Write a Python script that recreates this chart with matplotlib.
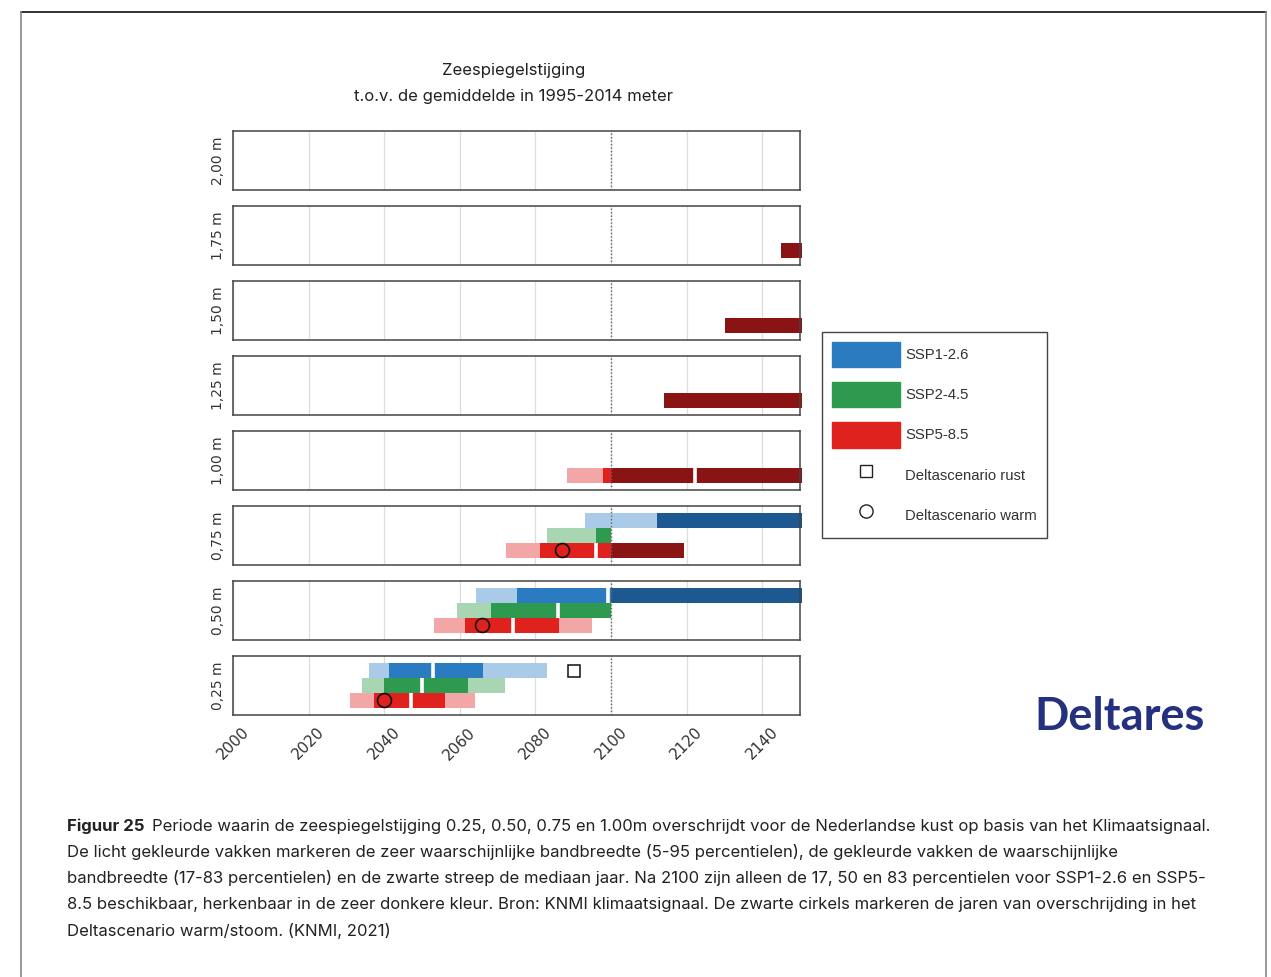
import numpy as np
import matplotlib
matplotlib.use("Agg")
import matplotlib.pyplot as plt
from matplotlib.patches import Patch
from matplotlib.lines import Line2D

nan = np.nan

# sea level rise levels, bottom to top
levels = ["0,25 m", "0,50 m", "0,75 m", "1,00 m", "1,25 m", "1,50 m", "1,75 m", "2,00 m"]

# year of exceedance per percentile (nan = not available / beyond 2150)
ssp126_p5 = [2036.1, 2064.2, 2093.2, nan, nan, nan, nan, nan]
ssp126_p17 = [2041.4, 2075.2, 2112.3, nan, nan, nan, nan, nan]
ssp126_p50 = [2053.0, 2099.3, nan, nan, nan, nan, nan, nan]
ssp126_p83 = [2066.1, nan, nan, nan, nan, nan, nan, nan]
ssp126_p95 = [2083.0, nan, nan, nan, nan, nan, nan, nan]

ssp245_p5 = [2034.2, 2059.2, 2083.2, nan, nan, nan, nan, nan]
ssp245_p17 = [2040.0, 2068.3, 2096.1, nan, nan, nan, nan, nan]
ssp245_p50 = [2050.1, 2086.1, nan, nan, nan, nan, nan, nan]
ssp245_p83 = [2062.1, nan, nan, nan, nan, nan, nan, nan]
ssp245_p95 = [2072.0, nan, nan, nan, nan, nan, nan, nan]

ssp585_p5 = [2030.9, 2053.1, 2072.3, 2088.3, nan, nan, nan, nan]
ssp585_p17 = [2037.2, 2061.3, 2081.2, 2097.9, 2113.9, 2130.1, 2144.9, nan]
ssp585_p50 = [2047.1, 2074.1, 2096.1, 2122.1, nan, nan, nan, nan]
ssp585_p83 = [2056.0, 2086.2, 2119.2, nan, nan, nan, nan, nan]
ssp585_p95 = [2064.1, 2095.1, nan, nan, nan, nan, nan, nan]

# Deltascenario years
delta_rust = [2090.3, nan, nan, nan, nan, nan, nan, nan]
delta_warm = [2040.0, 2066.0, 2087.1, nan, nan, nan, nan, nan]

xmin, xmax = 2000, 2150
cutoff = 2100

scenarios = [
    # name, row, percentiles, has data after 2100, colours (light, dark, post)
    ("SSP1-2.6", 3, (ssp126_p5, ssp126_p17, ssp126_p50, ssp126_p83, ssp126_p95), True,
     ("#a9cbe8", "#2b7bc0", "#1d5990")),
    ("SSP2-4.5", 2, (ssp245_p5, ssp245_p17, ssp245_p50, ssp245_p83, ssp245_p95), False,
     ("#a8d6b2", "#2e9a4f", None)),
    ("SSP5-8.5", 1, (ssp585_p5, ssp585_p17, ssp585_p50, ssp585_p83, ssp585_p95), True,
     ("#f2a6a6", "#e0221f", "#8a1414")),
]


def draw_scenario(ax, i, row, pct, has_post, cols):
    p5, p17, p50, p83, p95 = [v[i] for v in pct]
    light, dark, post = cols
    h = 1.0
    # very likely range (light)
    if np.isfinite(p5):
        if np.isfinite(p95) and p95 <= cutoff:
            end = p95
        elif np.isfinite(p17) and p17 > cutoff:
            end = p17
        else:
            end = cutoff
        ax.barh(row, end - p5, left=p5, height=h, color=light, lw=0)
    # likely range (dark), before 2100
    if np.isfinite(p17) and p17 < cutoff:
        e1 = min(p50 if np.isfinite(p50) else cutoff, cutoff)
        ax.barh(row, e1 - p17, left=p17, height=h, color=dark, lw=0)
        if np.isfinite(p50) and p50 < cutoff:
            e2 = min(p83 if np.isfinite(p83) else cutoff, cutoff)
            ax.barh(row, e2 - p50, left=p50, height=h, color=dark, lw=0)
    # after 2100: only 17, 50, 83 percentiles
    if has_post and np.isfinite(p17):
        start = max(p17, cutoff)
        end = p83 if np.isfinite(p83) else xmax + 0.5
        if end > start:
            ax.barh(row, end - start, left=start, height=h, color=post, lw=0, clip_on=False)
    # median
    if np.isfinite(p50):
        ax.vlines(p50, row - h / 2, row + h / 2, color="white", lw=2.6, zorder=3)


fig = plt.figure(figsize=(12.71, 9.77), dpi=100)
W, H = 1271, 977

gs = fig.add_gridspec(len(levels), 1, left=233 / W, right=800 / W,
                      top=1 - 131 / H, bottom=1 - 715 / H, hspace=0.265)

axes = []
for k in range(len(levels)):
    i = len(levels) - 1 - k
    ax = fig.add_subplot(gs[k, 0])
    axes.append(ax)
    ax.set_xlim(xmin, xmax)
    ax.set_ylim(0, 4)
    ax.set_yticks([])
    ax.set_xticks(np.arange(2000, 2141, 20))
    ax.grid(axis="x", color="#dddddd", lw=0.9)
    ax.set_axisbelow(True)
    ax.axvline(cutoff, color="#666666", ls=(0, (1, 1.5)), lw=1.0, zorder=4)
    ax.tick_params(axis="x", length=0)
    for s in ax.spines.values():
        s.set_color("#444444")
        s.set_linewidth(1.1)
    ax.set_ylabel(levels[i], fontsize=10, color="#333333", labelpad=6,
                  family="DejaVu Sans")
    for name, row, pct, has_post, cols in scenarios:
        draw_scenario(ax, i, row, pct, has_post, cols)
    if np.isfinite(delta_rust[i]):
        ax.plot(delta_rust[i], 3, marker="s", ms=8.5, mfc="white", mec="#111111",
                mew=1.1, ls="none", zorder=5)
    if np.isfinite(delta_warm[i]):
        ax.plot(delta_warm[i], 1, marker="o", ms=10, mfc="none", mec="#111111",
                mew=1.2, ls="none", zorder=5)
    if i == 0:
        ax.tick_params(axis="x", labelsize=11, labelcolor="#333333", pad=7)
        for lab in ax.get_xticklabels():
            lab.set_rotation(45)
    else:
        ax.tick_params(axis="x", labelbottom=False)

# legend
handles = [
    Patch(color="#2b7bc0", label="SSP1-2.6"),
    Patch(color="#2e9a4f", label="SSP2-4.5"),
    Patch(color="#e0221f", label="SSP5-8.5"),
    Line2D([], [], marker="s", ms=8.5, mfc="white", mec="#222222", mew=1.0,
           ls="none", label="Deltascenario rust"),
    Line2D([], [], marker="o", ms=9.5, mfc="white", mec="#222222", mew=1.0,
           ls="none", label="Deltascenario warm"),
]
leg = fig.legend(handles=handles, loc="upper left", bbox_to_anchor=(822 / W, 1 - 332 / H),
                 frameon=True, fancybox=False, edgecolor="#444444", framealpha=1,
                 prop={"family": "Liberation Sans", "size": 10.7},
                 handlelength=4.6, handleheight=2.25, labelspacing=1.0,
                 handletextpad=0.35, borderpad=0.65, borderaxespad=0)
leg.get_frame().set_linewidth(1.0)
for t in leg.get_texts():
    t.set_color("#333333")

# title
fig.text(514 / W, 1 - 71 / H, "Zeespiegelstijging", ha="center", va="center",
         family="Inter", fontsize=12, color="#222222")
fig.text(514 / W, 1 - 97 / H, "t.o.v. de gemiddelde in 1995-2014 meter", ha="center",
         va="center", family="Inter", fontsize=12, color="#222222")

# logo
fig.text(1120 / W, 1 - 717 / H, "Deltares", ha="center", va="center", family="Lato",
         fontweight="bold", fontsize=32.5, color="#24317f")

# caption
caption = [
    "Periode waarin de zeespiegelstijging 0.25, 0.50, 0.75 en 1.00m overschrijdt voor de Nederlandse kust op basis van het Klimaatsignaal.",
    "De licht gekleurde vakken markeren de zeer waarschijnlijke bandbreedte (5-95 percentielen), de gekleurde vakken de waarschijnlijke",
    "bandbreedte (17-83 percentielen) en de zwarte streep de mediaan jaar. Na 2100 zijn alleen de 17, 50 en 83 percentielen voor SSP1-2.6 en SSP5-",
    "8.5 beschikbaar, herkenbaar in de zeer donkere kleur. Bron: KNMI klimaatsignaal. De zwarte cirkels markeren de jaren van overschrijding in het",
    "Deltascenario warm/stoom. (KNMI, 2021)",
]
cap_size = 12
renderer = fig.canvas.get_renderer()
bold = fig.text(67 / W, 1 - 826 / H, "Figuur 25", family="Inter", fontweight="bold",
                fontsize=cap_size, color="#222222", va="center")
bw = bold.get_window_extent(renderer).width
fig.text((67 + bw + 7) / W, 1 - 826 / H, caption[0], family="Inter", fontsize=cap_size,
         color="#222222", va="center")
for n, line in enumerate(caption[1:], start=1):
    fig.text(67 / W, 1 - (826 + 26.2 * n) / H, line, family="Inter", fontsize=cap_size,
             color="#222222", va="center")

# page border
fig.add_artist(Line2D([21 / W, 1266 / W], [1 - 12 / H, 1 - 12 / H], color="#111111", lw=1.2))
fig.add_artist(Line2D([21 / W, 21 / W], [0, 1 - 12 / H], color="#888888", lw=1.2))
fig.add_artist(Line2D([1266 / W, 1266 / W], [0, 1 - 12 / H], color="#888888", lw=1.2))

fig.savefig("out.png", dpi=100, facecolor="white")
